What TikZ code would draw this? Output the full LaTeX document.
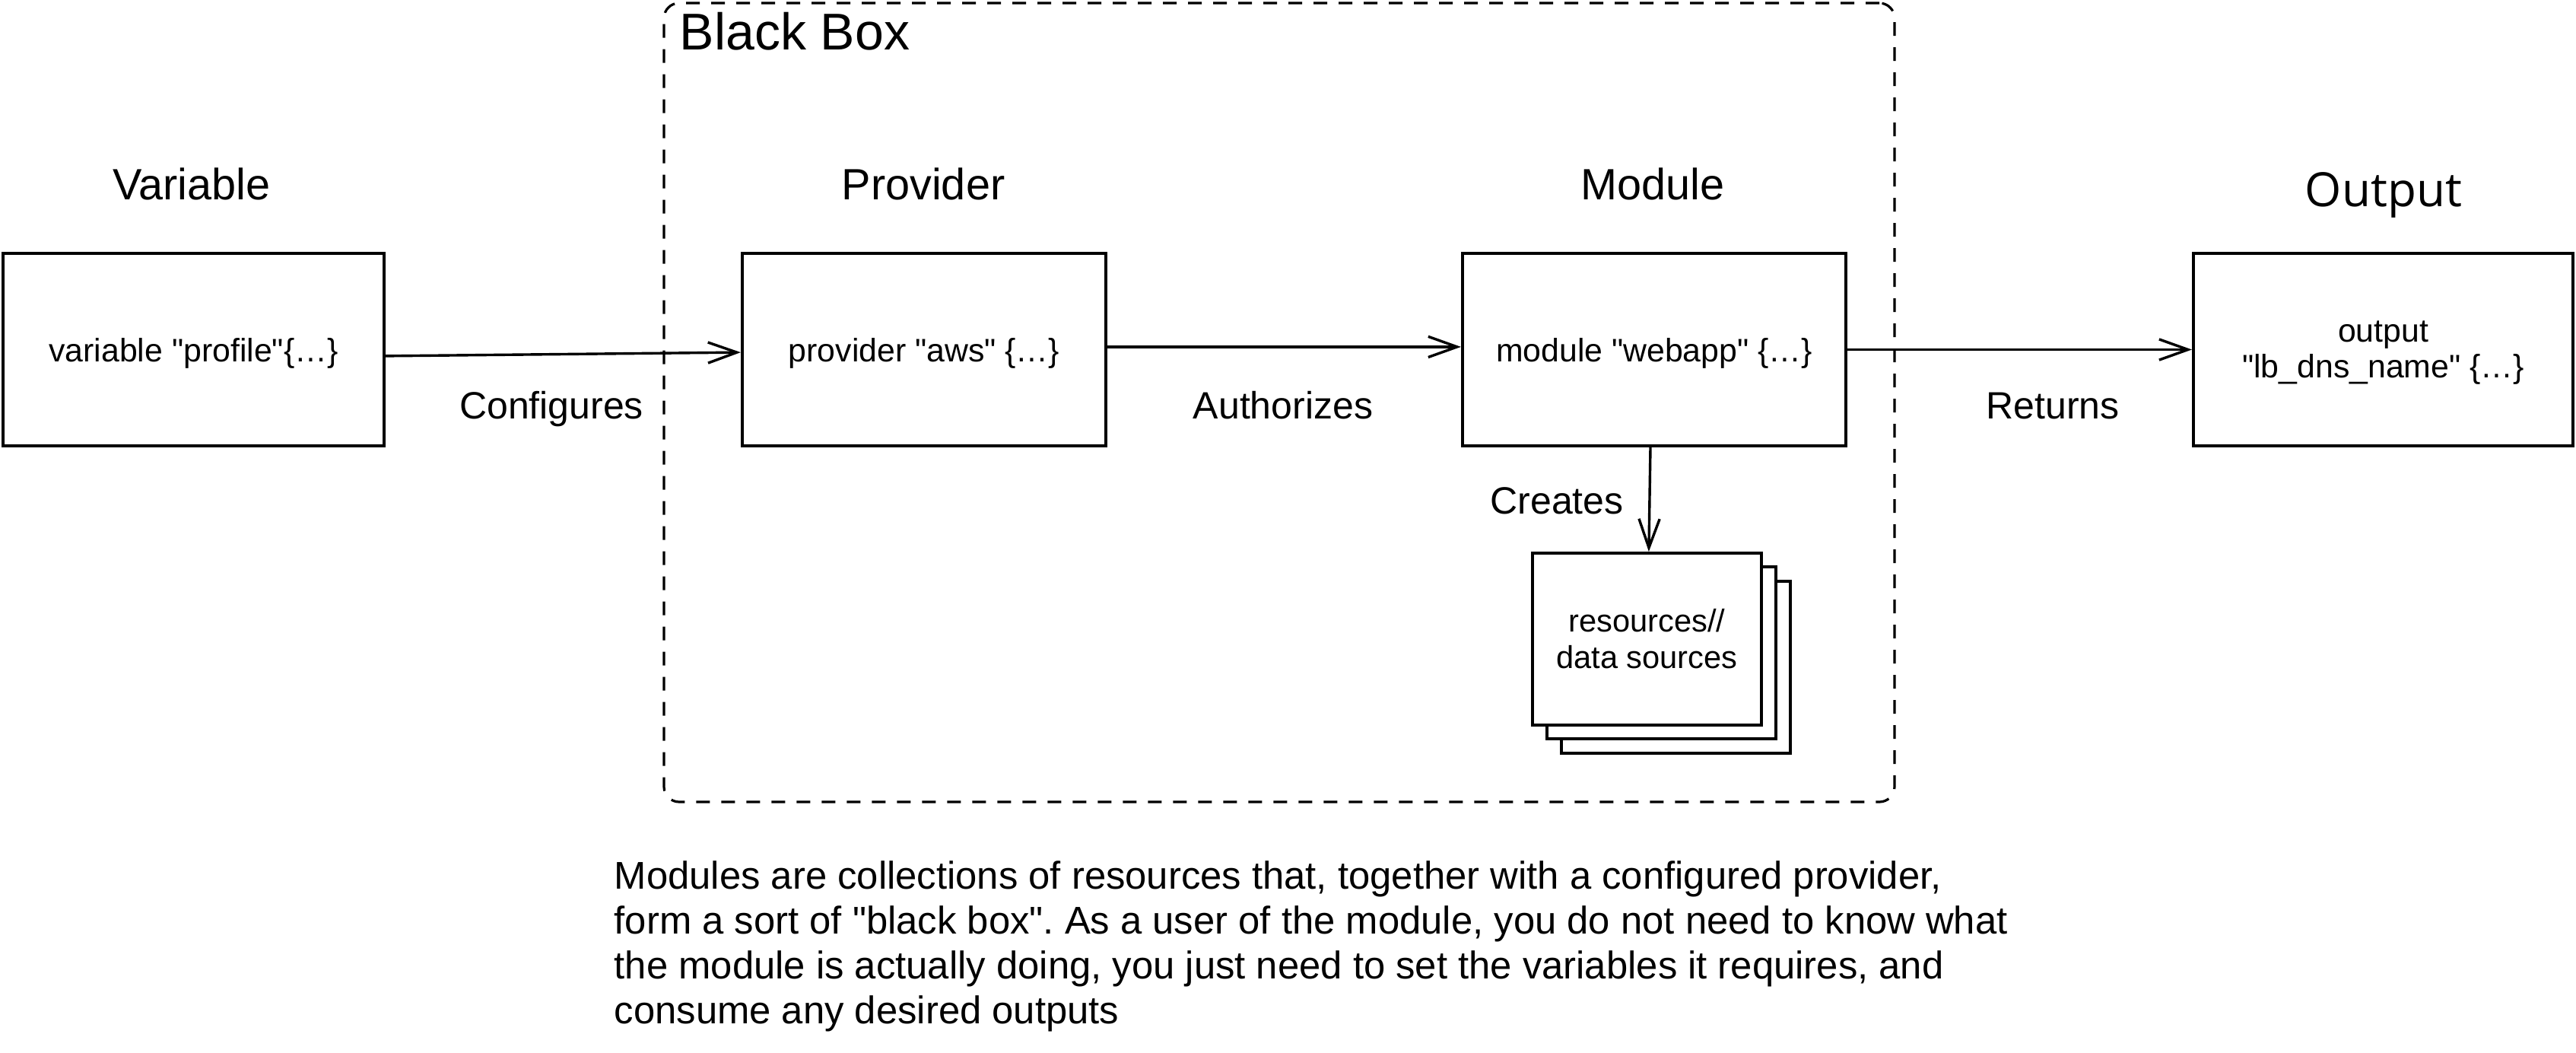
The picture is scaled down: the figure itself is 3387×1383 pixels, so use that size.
\documentclass[tikz,border=0pt]{standalone}
\usetikzlibrary{arrows.meta}
\font\fBox="Liberation Sans" at 10.7pt
\font\fRes="Liberation Sans" at 10.4pt
\font\fHead="Liberation Sans" at 14.4pt
\font\fLbl="Liberation Sans" at 12.5pt
\font\fBB="Liberation Sans" at 17pt
\font\fPar="Liberation Sans" at 12.7pt
\font\fOut="Open Sans" at 15.5pt
\begin{document}
\begin{tikzpicture}[x=0.25pt,y=-0.25pt,
  box/.style={draw, line width=1.05pt, fill=white, minimum width=#1, minimum height=63.25pt,
    inner sep=0pt, align=center, text depth=0pt, font={\fBox\baselineskip=11.75pt}},
  resbox/.style={draw, line width=1pt, fill=white, minimum width=75.25pt, minimum height=56.5pt,
    inner sep=0pt, align=center, font={\fRes\baselineskip=12pt}},
  header/.style={anchor=base, inner sep=0pt, font=\fHead},
  lbl/.style={anchor=base, inner sep=0pt, font=\fLbl},
  conn/.style={line width=0.85pt, -{Straight Barb[length=9.5pt,width=6.8pt,line width=0.85pt]}},
  blackbox/.style={draw, dashed, dash pattern=on 4.5pt off 3.75pt, line width=0.8pt,
    rounded corners=5pt, minimum width=404.5pt, minimum height=262.5pt, inner sep=0pt}
]
\useasboundingbox (0,0) rectangle (3387,1383);

% black box frame
\node[blackbox] (bb) at (1682,529) {};
\node[anchor=base west, inner sep=0pt, font=\fBB] (bbl) at (893,65) {Black Box};

% headers
\node[header] (hvar) at (252,262) {Variable};
\node[header] (hprov) at (1214,262) {Provider};
\node[header] (hmod) at (2173,262) {Module};
\node[anchor=base, inner sep=0pt, font=\fOut] (hout) at (3134,271) {Output};

% main boxes
\node[box=125.25pt] (var) at (254.5,459.5) {variable "profile"\{…\}};
\node[box=119.5pt] (prov) at (1215,459.5) {provider "aws" \{…\}};
\node[box=126pt] (mod) at (2175,459.5) {module "webapp" \{…\}};
\node[box=124.75pt] (out) at (3133.5,459.5) {output\\"lb\_dns\_name" \{…\}};

% stacked resources
\node[resbox] (res3) at (2203.5,877) {};
\node[resbox] (res2) at (2184.5,858) {};
\node[resbox] (res) at (2165.5,840) {resources//\\data sources};

% connectors
\draw[conn] ([yshift=-2.1pt]var.east) -- ([yshift=-0.9pt]prov.west);
\draw[conn] ([yshift=0.9pt]prov.east) -- ([yshift=0.9pt]mod.west);
\draw[conn] (mod.east) -- (out.west);
\draw[conn] ([xshift=-1.25pt]mod.south) -- ([xshift=0.6pt]res.north);

% connector labels
\node[lbl] (lconf) at (725,550) {Configures};
\node[lbl] (lauth) at (1687,550) {Authorizes};
\node[lbl] (lret) at (2699,550) {Returns};
\node[lbl] (lcre) at (2047,675) {Creates};

% description
\node[anchor=north west, inner sep=0pt, align=left, font={\fPar\baselineskip=14.75pt\frenchspacing}] (desc) at (807,1131)
{Modules are collections of resources that, together with a configured provider,\\
form a sort of "black box". As a user of the module, you do not need to know what\\
the module is actually doing, you just need to set the variables it requires, and\\
consume any desired outputs};
\end{tikzpicture}
\end{document}
